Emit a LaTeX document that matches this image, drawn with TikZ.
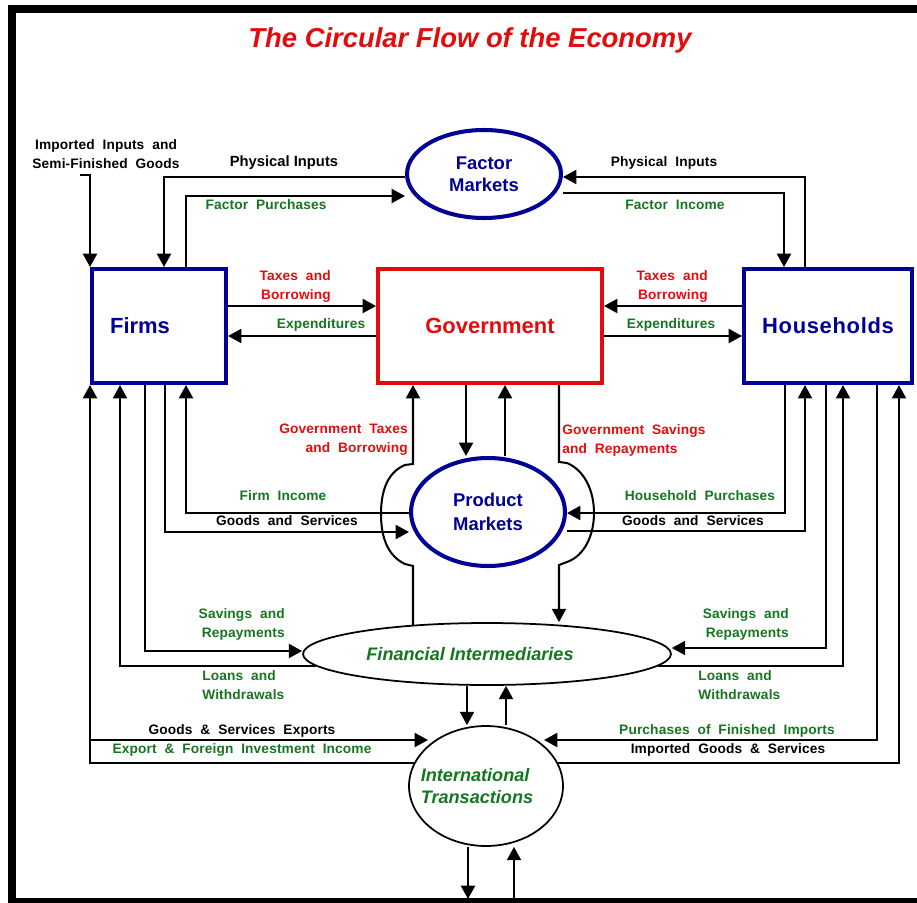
\documentclass[tikz,border=0pt]{standalone}
\usepackage{fontspec}
\setmainfont{Liberation Sans}
\newfontfamily\flowfont{Liberation Sans}[LetterSpace=1,WordSpace=2]
\usetikzlibrary{arrows.meta,shapes.geometric}

\definecolor{cfred}{RGB}{226,12,12}
\definecolor{cfgreen}{RGB}{20,118,30}
\definecolor{cfblue}{RGB}{0,0,150}

\tikzset{
  sector/.style={draw, line width=2.3pt, minimum height=2.28cm,
    font=\fontsize{12.5}{15}\selectfont\bfseries},
  market/.style={ellipse, draw=cfblue, line width=2.3pt, text=cfblue,
    minimum width=3.08cm, align=center, inner sep=1pt},
  money/.style={ellipse, draw, line width=1pt, text=cfgreen,
    font=\fontsize{10.3}{12.8}\selectfont\bfseries\itshape, inner sep=1pt},
  flow/.style={draw, line width=1.15pt, ->},
  lbl/.style={inner sep=0pt, font=\flowfont\fontsize{7.8}{10.8}\selectfont\bfseries},
}

\begin{document}
\begin{tikzpicture}[x=0.02cm, y=-0.02cm, >={Triangle[length=7.6pt,width=8pt]}]
\useasboundingbox (0,0) rectangle (917,903);
\clip (0,0) rectangle (917,903);

% frame
\draw[line width=4.5pt] (960,9) -- (12,9) -- (12,902) -- (960,902);

% title
\node[text=cfred, font=\fontsize{15.6}{18}\selectfont\bfseries\itshape] (title) at (470,40)
  {The Circular Flow of the Economy};

% sectors
\node[sector, draw=cfblue, text=cfblue, minimum width=2.68cm] (firms) at (159,326)
  {Firms\hspace*{0.76cm}};
\node[sector, draw=cfred, text=cfred, minimum width=4.48cm] (gov) at (490,326) {Government};
\node[sector, draw=cfblue, text=cfblue, minimum width=3.36cm] (hh) at (828,326)
  {\addfontfeature{LetterSpace=3}Households};

% markets
\node[market, minimum height=1.76cm, font=\fontsize{10.5}{12.5}\selectfont\bfseries] (fm)
  at (484,174) {Factor\\Markets};
\node[market, minimum height=2.16cm, font=\fontsize{10.5}{13.6}\selectfont\bfseries] (pm)
  at (488,512) {Product\\Markets};
\node[money, minimum width=7.36cm, minimum height=1.24cm] (fi) at (487,654)
  {Financial Intermediaries\hspace*{0.68cm}};
\node[money, minimum width=3.08cm, minimum height=2.4cm, align=left, inner xsep=-0.3cm] (it)
  at (486,786) {International\\Transactions\hspace*{0.36cm}};

% bend points
\coordinate (impsrc) at (80,175);
\coordinate (physL) at (164,177);
\coordinate (factP) at (186,196);
\coordinate (physR) at (805,177);
\coordinate (factI) at (784,193);
\coordinate (gDown) at (466,420);
\coordinate (gUp) at (505,420);
\coordinate (gtbT) at (413,464);
\coordinate (gtbB) at (413,566);
\coordinate (gsrT) at (559,462);
\coordinate (gsrB) at (559,565);
\coordinate (fincL) at (186,513);
\coordinate (goodsL) at (165,532);
\coordinate (purchR) at (785,513);
\coordinate (goodsR) at (805,531);
\coordinate (saveL) at (145,651);
\coordinate (loanL) at (120,666);
\coordinate (saveR) at (826,648);
\coordinate (loanR) at (843,666);
\coordinate (exportJ) at (91,740);
\coordinate (importR) at (877,740);
\coordinate (igsR) at (899,763);
\coordinate (fiDown) at (467,700);
\coordinate (fiUp) at (506,700);
\coordinate (itDown) at (468,899);
\coordinate (itUp) at (514,899);

% factor markets
\draw[flow] (impsrc) -| (firms.north west);
\draw[flow] (fm.west |- physL) -| (firms.north -| physL);
\draw[flow] (firms.north -| factP) |- (fm.west |- factP);
\draw[flow] (hh.north -| physR) |- (fm.east |- physR);
\draw[flow] (fm.east |- factI) -| (hh.north -| factI);

% government
\draw[flow] ([yshift=0.4cm]firms.east) -- ([yshift=0.4cm]gov.west);
\draw[flow] ([yshift=-0.2cm]gov.west) -- ([yshift=-0.2cm]firms.east);
\draw[flow] ([yshift=0.4cm]hh.west) -- ([yshift=0.4cm]gov.east);
\draw[flow] ([yshift=-0.2cm]gov.east) -- ([yshift=-0.2cm]hh.west);
\draw[flow] (gov.south -| gDown) -- (pm.north -| gDown);
\draw[flow] (pm.north -| gUp) -- (gov.south -| gUp);
\draw[flow] (gtbB |- fi.159) -- (gtbB) -- (405,564)
  .. controls (388,556) and (381,538) .. (381,514)
  .. controls (381,490) and (388,472) .. (405,465) -- (gtbT) -- (gov.south -| gtbT);
\draw[flow] (gov.south -| gsrT) -- (gsrT) -- (567,463)
  .. controls (584,470) and (594,490) .. (594,513)
  .. controls (594,536) and (584,556) .. (567,562) -- (gsrB) -- (fi.north -| gsrB);

% product markets
\draw[flow] (pm.west |- fincL) -| (firms.south -| fincL);
\draw[flow] (firms.south -| goodsL) |- (pm.west |- goodsL);
\draw[flow] (hh.south -| purchR) |- (pm.east |- purchR);
\draw[flow] (pm.east |- goodsR) -| (hh.south -| goodsR);

% financial intermediaries
\draw[flow] (firms.south -| saveL) |- (fi.west |- saveL);
\draw[flow] (fi.184) -| (firms.south -| loanL);
\draw[flow] (hh.south -| saveR) |- (fi.east |- saveR);
\draw[flow] (fi.356) -| (hh.south -| loanR);

% international transactions
\draw[flow] (exportJ) -- (exportJ -| it.145);
\draw[flow] (it.162) -| (firms.south west);
\draw[flow] (hh.south -| importR) |- (importR -| it.35);
\draw[flow] (it.18) -| (hh.south -| igsR);
\draw[flow] (fi.south -| fiDown) -- (it.north -| fiDown);
\draw[flow] (it.north -| fiUp) -- (fi.south -| fiUp);
\draw[flow] (it.south -| itDown) -- (itDown);
\draw[flow] (itUp) -- (it.south -| itUp);

% labels
\node[lbl, align=center] (lImp) at (106,154) {Imported Inputs and\\Semi-Finished Goods};
\node[lbl, font=\fontsize{8.4}{10}\selectfont\bfseries] (lPhysL) at (284,163) {Physical Inputs};
\node[lbl, text=cfgreen] (lFactP) at (266,205) {Factor Purchases};
\node[lbl] (lPhysR) at (664,163) {Physical Inputs};
\node[lbl, text=cfgreen] (lFactI) at (675,205) {Factor Income};
\node[lbl, text=cfred, align=right, anchor=east] (lTaxL) at (331,286) {Taxes and\\Borrowing};
\node[lbl, text=cfgreen] (lExpL) at (321,325) {Expenditures};
\node[lbl, text=cfred, align=right, anchor=east] (lTaxR) at (708,286) {Taxes and\\Borrowing};
\node[lbl, text=cfgreen] (lExpR) at (671,325) {Expenditures};
\node[lbl, text=cfred, align=right, anchor=east] (lGovT) at (408,440) {Government Taxes\\and Borrowing};
\node[lbl, text=cfred, align=left, anchor=west] (lGovS) at (562,440) {Government Savings\\and Repayments};
\node[lbl, text=cfgreen] (lFInc) at (283,496) {Firm Income};
\node[lbl] (lGoodsL) at (287,521) {Goods and Services};
\node[lbl, text=cfgreen] (lHPur) at (700,496) {Household Purchases};
\node[lbl] (lGoodsR) at (693,521) {Goods and Services};
\node[lbl, text=cfgreen, align=right, anchor=east] (lSavL) at (285,624) {Savings and\\Repayments};
\node[lbl, text=cfgreen, align=left, anchor=west] (lLoanL) at (202,685) {Loans and\\Withdrawals};
\node[lbl, text=cfgreen, align=right, anchor=east] (lSavR) at (789,624) {Savings and\\Repayments};
\node[lbl, text=cfgreen, align=left, anchor=west] (lLoanR) at (698,685) {Loans and\\Withdrawals};
\node[lbl] (lExp) at (242,731) {Goods \& Services Exports};
\node[lbl, text=cfgreen] (lExpInc) at (242,750) {Export \& Foreign Investment Income};
\node[lbl, text=cfgreen] (lPFI) at (727,731) {Purchases of Finished Imports};
\node[lbl] (lIGS) at (728,750) {Imported Goods \& Services};

\end{tikzpicture}
\end{document}
